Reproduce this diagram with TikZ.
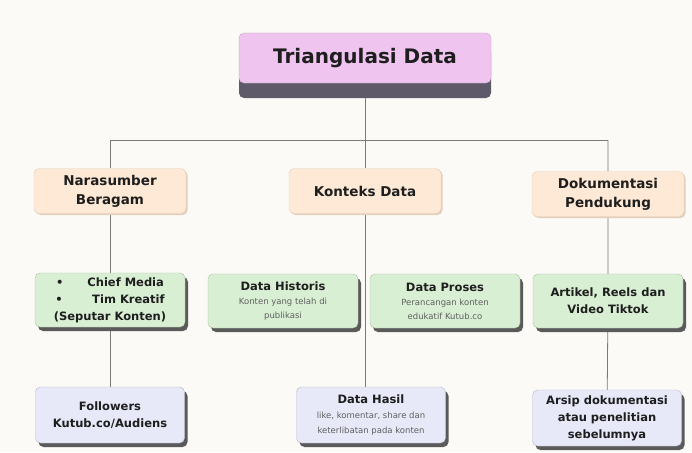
\documentclass[tikz,border=0pt]{standalone}
\usepackage{fontspec}
\setmainfont{DejaVu Sans}
\usetikzlibrary{shadows,backgrounds}

\definecolor{paper}{HTML}{FCFAF6}
\definecolor{titlepink}{HTML}{EFC4EF}
\definecolor{titleband}{HTML}{5E5A6A}
\definecolor{peach}{HTML}{FDE9D5}
\definecolor{peachline}{HTML}{E2CFBA}
\definecolor{mint}{HTML}{D9EFD4}
\definecolor{mintline}{HTML}{A9C2A2}
\definecolor{lilac}{HTML}{E7E9F8}
\definecolor{lilacline}{HTML}{B4B8CE}
\definecolor{boxshade}{HTML}{5A5A5A}
\definecolor{ink}{HTML}{1E1E1E}
\definecolor{subink}{HTML}{5F5F5F}
\definecolor{linegray}{HTML}{7A7A7A}

\newcommand\subline{\mdseries\fontsize{8.5}{12}\selectfont\color{subink}}

\begin{document}
\begin{tikzpicture}[x=1pt, y=-1pt,
    box/.style={rounded corners=5pt, inner sep=0pt, align=center, text=ink,
        font=\bfseries\fontsize{11.5}{17}\selectfont},
    topbox/.style={box, fill=titlepink, draw=titlepink!85!black,
        minimum width=252pt, minimum height=50pt,
        font=\bfseries\fontsize{20}{24}\selectfont,
        drop shadow={shadow xshift=0pt, shadow yshift=-15pt, fill=titleband, opacity=1}},
    headbox/.style={box, fill=peach, draw=peachline,
        minimum width=152pt, minimum height=45pt,
        font=\bfseries\fontsize{13.5}{19}\selectfont,
        drop shadow={shadow xshift=1.5pt, shadow yshift=-1.5pt, fill=peachline, opacity=1}},
    itembox/.style={box, fill=mint, draw=mintline,
        minimum width=150pt, minimum height=54pt,
        drop shadow={shadow xshift=3pt, shadow yshift=-4pt, fill=boxshade, opacity=1}},
    leafbox/.style={box, fill=lilac, draw=lilacline,
        minimum width=149pt, minimum height=56pt,
        drop shadow={shadow xshift=3pt, shadow yshift=-4pt, fill=boxshade, opacity=1}},
    link/.style={draw=linegray, line width=0.8pt}]

    % top
    \node[topbox] (title) at (365,58) {Triangulasi Data};

    % three sources
    \node[headbox] (nara) at (110,191) {Narasumber\\Beragam};
    \node[headbox] (konteks) at (365,191) {Konteks Data};
    \node[headbox] (dok) at (608,194) {Dokumentasi\\Pendukung};

    \node[itembox] (chief) at (110,300)
        {\textbullet\hspace{24pt}Chief Media\\\textbullet\hspace{29.5pt}Tim Kreatif\\(Seputar Konten)};
    \node[itembox] (hist) at (283,301)
        {Data Historis\\[-3pt]{\subline Konten yang telah di}\\[-3pt]{\subline publikasi}};
    \node[itembox] (proses) at (445,301)
        {Data Proses\\[-3pt]{\subline Perancangan konten}\\[-3pt]{\subline edukatif Kutub.co}};
    \node[itembox] (artikel) at (608,301) {Artikel, Reels dan\\Video Tiktok};

    \node[leafbox] (follow) at (110,415) {Followers\\Kutub.co/Audiens};
    \node[leafbox] (hasil) at (371,415)
        {Data Hasil\\[-2pt]{\subline like, komentar, share dan}\\[-2pt]{\subline keterlibatan pada konten}};
    \node[leafbox] (arsip) at (607,418) {Arsip dokumentasi\\atau penelitian\\sebelumnya};

    \coordinate (hubL) at (110,140);
    \coordinate (hubM) at (365,140);
    \coordinate (hubR) at (608,140);

    \begin{pgfonlayer}{background}
        \fill[paper] (0,0) rectangle (692,452);
        \draw[link] (title) -- (hubM);
        \draw[link] (hubL) -- (hubR);
        \draw[link] (hubL) -- (nara) -- (chief) -- (follow);
        \draw[link] (hubM) -- (konteks) -- (konteks |- hasil.north);
        \draw[link] (hubR) -- (dok) -- (artikel) -- (arsip);
    \end{pgfonlayer}
\end{tikzpicture}
\end{document}
